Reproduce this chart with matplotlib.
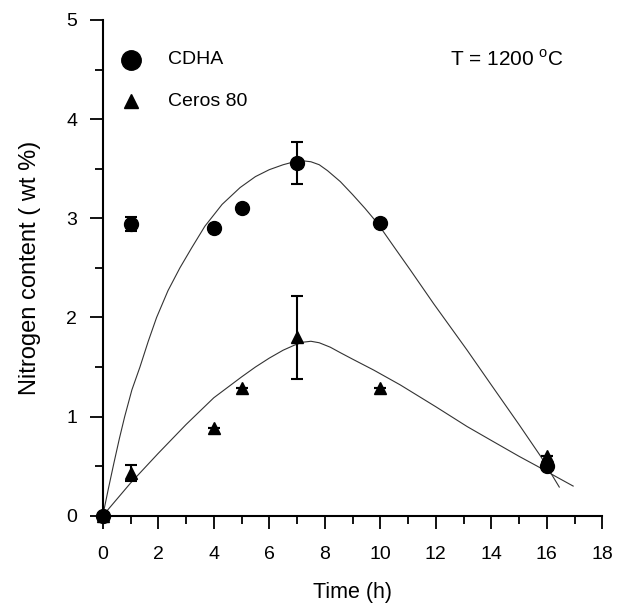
import matplotlib.pyplot as plt
import numpy as np

plt.rcParams['font.family'] = ['Liberation Sans', 'DejaVu Sans']
plt.rcParams['mathtext.fontset'] = 'custom'
plt.rcParams['mathtext.rm'] = 'Liberation Sans'

# measured data
time_h = [0, 1, 4, 5, 7, 10, 16]
cdha = [0, 2.94, 2.90, 3.10, 3.56, 2.95, 0.50]
cdha_err = [0, 0.07, 0, 0, 0.21, 0, 0]
ceros = [0, 0.43, 0.89, 1.29, 1.80, 1.29, 0.60]
ceros_err = [0, 0.08, 0, 0, 0.42, 0, 0]

# fitted curves
fit_cdha_t = [0, 0.2, 0.4, 0.6, 0.79, 1.05, 1.34, 1.64, 1.94, 2.35, 2.78, 3.2, 3.68, 4.3, 4.95,
              5.5, 6.0, 6.5, 6.9, 7.2, 7.5, 7.8, 8.1, 8.56, 9.0, 9.45, 9.9, 10.5, 11.08, 11.92,
              13.13, 14.0, 15.0, 15.78, 16.45]
fit_cdha = [0, 0.27, 0.53, 0.78, 1.0, 1.27, 1.5, 1.76, 2.0, 2.27, 2.5, 2.7, 2.92, 3.14, 3.31,
            3.42, 3.49, 3.54, 3.57, 3.58, 3.57, 3.54, 3.48, 3.37, 3.24, 3.1, 2.95, 2.71, 2.48,
            2.14, 1.67, 1.32, 0.92, 0.60, 0.29]
fit_ceros_t = [0, 1, 2, 3, 4, 5, 5.5, 6, 6.5, 6.9, 7.2, 7.5, 7.8, 8.2, 8.56, 9.0, 9.76, 10.72,
               12, 13.13, 14, 15, 15.66, 16.3, 16.95]
fit_ceros = [0, 0.33, 0.63, 0.92, 1.19, 1.40, 1.50, 1.59, 1.67, 1.72, 1.75, 1.76, 1.745, 1.70,
             1.645, 1.58, 1.47, 1.32, 1.10, 0.90, 0.76, 0.60, 0.50, 0.40, 0.30]

fig = plt.figure(figsize=(6.19, 6.04), dpi=100)
ax = fig.add_axes([0.166, 0.146, 0.807, 0.821])

ax.plot(fit_cdha_t, fit_cdha, color='#333333', lw=0.8)
ax.plot(fit_ceros_t, fit_ceros, color='#333333', lw=0.8)

ax.errorbar(time_h, cdha, yerr=cdha_err, fmt='o', color='black', ms=10,
            capsize=4, elinewidth=1.5, capthick=1.5, clip_on=False, zorder=3)
ax.errorbar(time_h, ceros, yerr=ceros_err, fmt='^', color='black', ms=9,
            capsize=4, elinewidth=1.5, capthick=1.5, clip_on=False, zorder=3)

# legend drawn by hand
ax.plot([1], [4.6], 'o', color='black', ms=14)
ax.plot([1], [4.18], '^', color='black', ms=10)
ax.text(2.35, 4.6, 'CDHA', fontsize=14, va='center')
ax.text(2.35, 4.18, 'Ceros 80', fontsize=14, va='center')
ax.text(12.5, 4.6, r'T = 1200 $^{\mathrm{o}}$C', fontsize=15, va='center')

ax.set_xlim(0, 18)
ax.set_ylim(0, 5)
ax.set_xticks(np.arange(0, 19, 2))
ax.set_xticks(np.arange(1, 18, 2), minor=True)
ax.set_yticks(np.arange(0, 6, 1))
ax.set_yticks(np.arange(0.5, 5, 1), minor=True)
ax.spines['top'].set_visible(False)
ax.spines['right'].set_visible(False)
for s in ['left', 'bottom']:
    ax.spines[s].set_linewidth(1.5)
ax.tick_params(which='major', length=9.5, width=1.3, labelsize=14, pad=9)
ax.tick_params(axis='x', which='major', pad=12)
ax.tick_params(which='minor', length=5.5, width=1.3)

ax.set_xlabel('Time (h)', fontsize=15.5, labelpad=14)
ax.set_ylabel('Nitrogen content ( wt %)', fontsize=17, labelpad=18)

fig.savefig('out.png', dpi=100)
